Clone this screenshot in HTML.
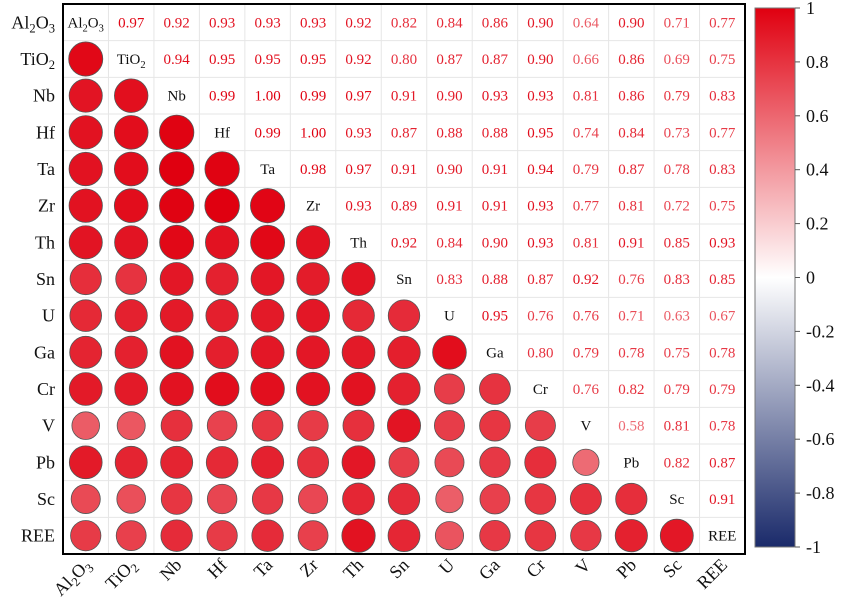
<!DOCTYPE html>
<html><head><meta charset="utf-8"><style>
body{margin:0;background:#fff;}
svg text{font-family:"Liberation Serif",serif;}
</style></head><body>
<svg id="chart" width="850" height="609" xmlns="http://www.w3.org/2000/svg">
<defs>
<linearGradient id="cb" x1="0" y1="0" x2="0" y2="1">
<stop offset="0" stop-color="#e00010"/><stop offset="0.5" stop-color="#ffffff"/><stop offset="1" stop-color="#1a2a6a"/>
</linearGradient>
</defs>
<g id="grid"></g><g id="cells"></g>
<rect x="63" y="4" width="682" height="550" fill="none" stroke="#000" stroke-width="2"/>
<g id="axes"></g>
<rect x="755" y="8" width="40" height="539" fill="url(#cb)" stroke="#777" stroke-width="1"/>
<g id="cbticks"></g>
</svg>
<script>
const vars=["Al2O3","TiO2","Nb","Hf","Ta","Zr","Th","Sn","U","Ga","Cr","V","Pb","Sc","REE"];
const upper=[
[0.97,0.92,0.93,0.93,0.93,0.92,0.82,0.84,0.86,0.90,0.64,0.90,0.71,0.77],
[0.94,0.95,0.95,0.95,0.92,0.80,0.87,0.87,0.90,0.66,0.86,0.69,0.75],
[0.99,1.00,0.99,0.97,0.91,0.90,0.93,0.93,0.81,0.86,0.79,0.83],
[0.99,1.00,0.93,0.87,0.88,0.88,0.95,0.74,0.84,0.73,0.77],
[0.98,0.97,0.91,0.90,0.91,0.94,0.79,0.87,0.78,0.83],
[0.93,0.89,0.91,0.91,0.93,0.77,0.81,0.72,0.75],
[0.92,0.84,0.90,0.93,0.81,0.91,0.85,0.93],
[0.83,0.88,0.87,0.92,0.76,0.83,0.85],
[0.95,0.76,0.76,0.71,0.63,0.67],
[0.80,0.79,0.78,0.75,0.78],
[0.76,0.82,0.79,0.79],
[0.58,0.81,0.78],
[0.82,0.87],
[0.91]
];
const cbTicks=[1,0.8,0.6,0.4,0.2,0,-0.2,-0.4,-0.6,-0.8,-1];
const NS="http://www.w3.org/2000/svg";
const X0=63,Y0=4,W=682,H=550,n=vars.length,cw=W/n,ch=H/n;
const cx=i=>X0+cw*(i+0.5), cy=i=>Y0+ch*(i+0.5);
function val(i,j){if(i===j)return 1;const a=Math.min(i,j),b=Math.max(i,j);return upper[a][b-a-1];}
function color(r){
 let c;
 if(r>=0){c=[255+(224-255)*r,255+(0-255)*r,255+(16-255)*r];}
 else{const t=-r;c=[255+(26-255)*t,255+(42-255)*t,255+(106-255)*t];}
 return `rgb(${c.map(Math.round).join(",")})`;
}
function mk(tag,attrs,parent){const e=document.createElementNS(NS,tag);for(const k in attrs)e.setAttribute(k,attrs[k]);parent.appendChild(e);return e;}
function label(el,name){
 const m=name.match(/^([A-Za-z]+?)(\d)([A-Za-z]*)(\d?)$/);
 if(!m){el.textContent=name;return;}
 const parts=[[m[1],0],[m[2],1],[m[3],0],[m[4],1]];
 parts.forEach(([t,s])=>{if(!t)return;const ts=document.createElementNS(NS,"tspan");ts.textContent=t;if(s){ts.setAttribute("font-size","0.7em");ts.setAttribute("dy","4");}else if(el.childNodes.length){ts.setAttribute("dy","-4");}el.appendChild(ts);});
}
const grid=document.getElementById("grid"),cells=document.getElementById("cells"),axes=document.getElementById("axes"),cbt=document.getElementById("cbticks");
for(let k=1;k<n;k++){
 const l1=mk("line",{x1:X0+cw*k,x2:X0+cw*k,y1:Y0,y2:Y0+H,stroke:"#e6e6e6"},grid);
 
 
 const l2=mk("line",{y1:Y0+ch*k,y2:Y0+ch*k,x1:X0,x2:X0+W,stroke:"#e6e6e6"},grid);
 
 
}
for(let i=0;i<n;i++){for(let j=0;j<n;j++){
 const r=val(i,j);
 if(i===j){
  const t=mk("text",{x:cx(j),y:cy(i)+5,"text-anchor":"middle","font-size":15,fill:"#111"},cells);
  label(t,vars[i]);
  
  
 }else if(j>i){
  const t=mk("text",{x:cx(j),y:cy(i)+5,"text-anchor":"middle","font-size":15,fill:color(r)},cells);
  t.textContent=r.toFixed(2);
  
  
 }else{
  const c=mk("circle",{cx:cx(j),cy:cy(i),r:17.3*Math.sqrt(Math.abs(r)),fill:color(r),stroke:"#555","stroke-width":0.8},cells);
  
  
 }
}}
for(let i=0;i<n;i++){
 const t=mk("text",{x:55,y:cy(i)+6,"text-anchor":"end","font-size":18,fill:"#111"},axes);
 label(t,vars[i]);
 
 
 const x=cx(i)+6,y=566;
 const u=mk("text",{x:x,y:y,"text-anchor":"end","font-size":18,fill:"#111",transform:`rotate(-45 ${x} ${y})`},axes);
 label(u,vars[i]);
 
 
}
const cbY=v=>8+(1-v)/2*539;
cbTicks.forEach(v=>{
 const l=mk("line",{x1:795,x2:800,y1:cbY(v),y2:cbY(v),stroke:"#555"},cbt);
 
 
 const t=mk("text",{x:806,y:cbY(v)+6,"font-size":18,fill:"#111"},cbt);
 t.textContent=String(v);
 
 
});
</script>
</body></html>
